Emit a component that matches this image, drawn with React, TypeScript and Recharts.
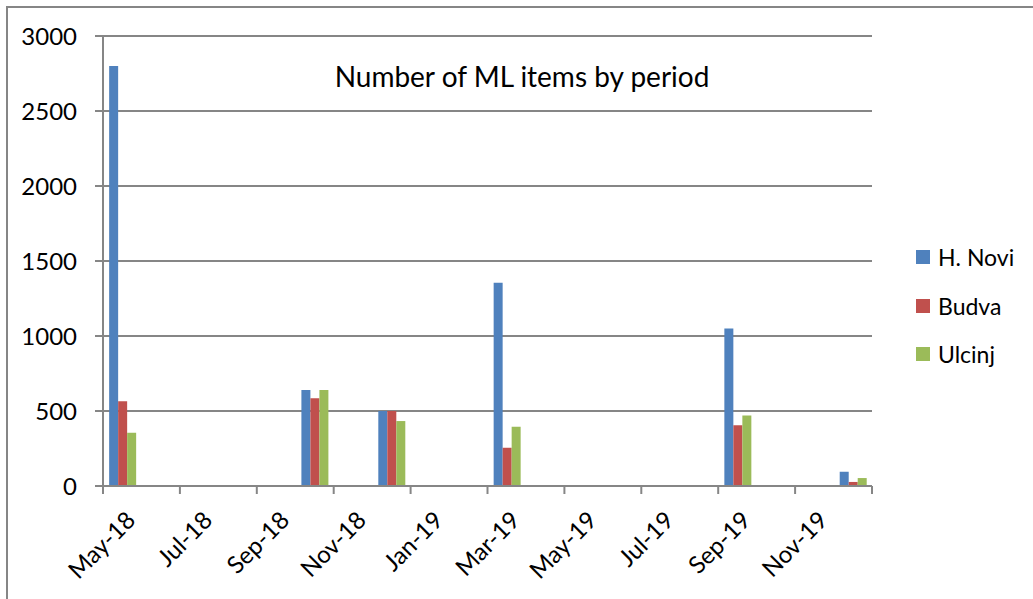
import { BarChart, Bar, XAxis, YAxis, CartesianGrid } from "recharts";

const months = [
  "May-18", "Jun-18", "Jul-18", "Aug-18", "Sep-18", "Oct-18", "Nov-18", "Dec-18",
  "Jan-19", "Feb-19", "Mar-19", "Apr-19", "May-19", "Jun-19", "Jul-19", "Aug-19",
  "Sep-19", "Oct-19", "Nov-19", "Dec-19",
];

const hNovi = [2800, null, null, null, null, 640, null, 500, null, null, 1355, null, null, null, null, null, 1050, null, null, 95];
const budva = [565, null, null, null, null, 585, null, 500, null, null, 255, null, null, null, null, null, 405, null, null, 27];
const ulcinj = [355, null, null, null, null, 640, null, 433, null, null, 395, null, null, null, null, null, 470, null, null, 53];

const yTicks = [0, 500, 1000, 1500, 2000, 2500, 3000];

const series = [
  { key: "hNovi", name: "H. Novi", color: "#4F81BD" },
  { key: "budva", name: "Budva", color: "#C0504D" },
  { key: "ulcinj", name: "Ulcinj", color: "#9BBB59" },
];

const data = months.map((month, i) => ({
  month,
  hNovi: hNovi[i],
  budva: budva[i],
  ulcinj: ulcinj[i],
}));

const W = 1033;
const H = 599;
const margin = { top: 36, right: 161, bottom: 0, left: 0 };
const yAxisW = 103;
const xAxisH = 113;
const band = (W - margin.right - margin.left - yAxisW) / months.length;
const gray = "#868686";
const font = "Lato, 'Open Sans', sans-serif";

function MonthTick(props: any) {
  const { x, y, payload, index } = props;
  const left = x - band / 2;
  const ax = x + 8;
  const ay = y + 29;
  return (
    <g>
      {index % 2 === 0 && (
        <>
          <line x1={left} y1={y} x2={left} y2={y + 8} stroke={gray} strokeWidth={2} />
          <text
            x={ax}
            y={ay}
            textAnchor="end"
            dominantBaseline="central"
            transform={`rotate(-45, ${ax}, ${ay})`}
            fontSize={24}
            fontFamily={font}
            fill="#000"
          >
            {payload.value}
          </text>
        </>
      )}
      {index === months.length - 1 && (
        <line x1={x + band / 2} y1={y} x2={x + band / 2} y2={y + 8} stroke={gray} strokeWidth={2} />
      )}
    </g>
  );
}

export default function App() {
  return (
    <div
      style={{
        position: "absolute",
        left: 0,
        top: 0,
        width: W,
        height: H,
        overflow: "hidden",
        background: "#fff",
        fontFamily: font,
      }}
    >
      <div
        style={{
          position: "absolute",
          left: 6,
          top: 6,
          width: W + 50,
          height: H + 50,
          border: `2px solid ${gray}`,
        }}
      />
      <BarChart
        width={W}
        height={H}
        data={data}
        margin={margin}
        barCategoryGap="16%"
        barGap={0}
      >
        <CartesianGrid vertical={false} stroke={gray} strokeWidth={2} />
        <XAxis
          dataKey="month"
          height={xAxisH}
          interval={0}
          tickLine={false}
          tickSize={0}
          tickMargin={0}
          axisLine={{ stroke: gray, strokeWidth: 2 }}
          tick={<MonthTick />}
        />
        <YAxis
          width={yAxisW}
          domain={[0, 3000]}
          ticks={yTicks}
          interval={0}
          tickSize={8}
          tickMargin={18}
          axisLine={{ stroke: gray, strokeWidth: 2 }}
          tickLine={{ stroke: gray, strokeWidth: 2 }}
          tick={{ fontSize: 24, fill: "#000", fontFamily: font }}
        />
        {series.map((s) => (
          <Bar key={s.key} dataKey={s.key} name={s.name} fill={s.color} isAnimationActive={false} />
        ))}
      </BarChart>
      <div
        style={{
          position: "absolute",
          left: 322,
          width: 400,
          top: 58,
          textAlign: "center",
          fontSize: 28,
          lineHeight: "36px",
          color: "#000",
          whiteSpace: "nowrap",
        }}
      >
        Number of ML items by period
      </div>
      <div style={{ position: "absolute", left: 916, top: 233 }}>
        {series.map((s) => (
          <div key={s.key} style={{ display: "flex", alignItems: "center", height: 48.5 }}>
            <div style={{ width: 14, height: 14, background: s.color, marginRight: 8 }} />
            <span style={{ fontSize: 23, color: "#000" }}>{s.name}</span>
          </div>
        ))}
      </div>
    </div>
  );
}
